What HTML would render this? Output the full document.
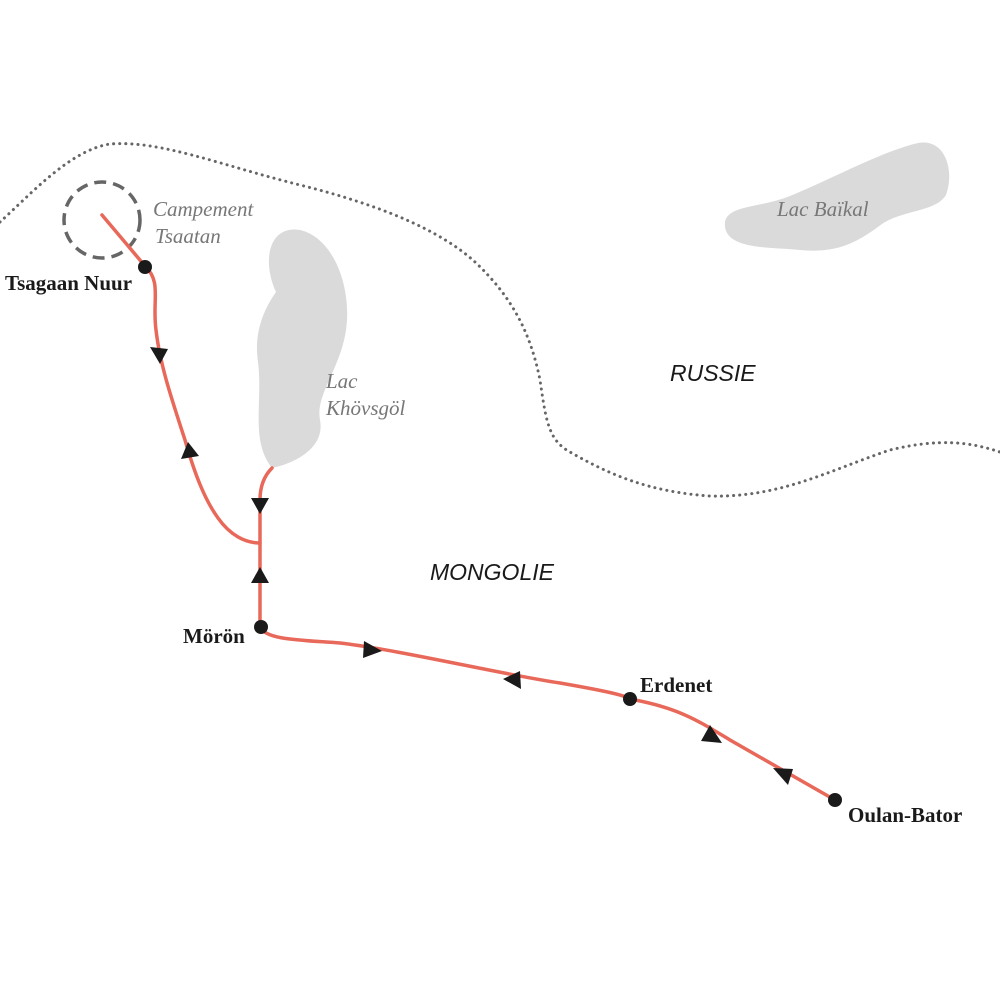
<!DOCTYPE html>
<html><head><meta charset="utf-8"><style>
html,body{margin:0;padding:0;background:#fff;}
svg{display:block}
.b{font-family:"Liberation Serif",serif;font-weight:bold;font-size:21px;fill:#1a1a1a}
.g{font-family:"Liberation Serif",serif;font-style:italic;font-size:21px;fill:#777}
.c{font-family:"Liberation Sans",sans-serif;font-style:italic;font-size:23px;fill:#1a1a1a}
</style></head><body>
<svg width="1000" height="1000" viewBox="0 0 1000 1000" xmlns="http://www.w3.org/2000/svg">
<path d="M0 222 C30 195 70 150 110 144 C160 140 220 165 300 185 C380 205 440 230 475 262 C510 295 530 330 540 380 C546 420 548 440 570 452 C610 475 650 492 710 496 C780 498 830 470 890 450 C940 438 970 442 1000 452" fill="none" stroke="#666" stroke-width="3" stroke-dasharray="0.1 6" stroke-linecap="round"/>
<path d="M272 468 C300 462 325 445 320 420 C315 395 340 370 346 330 C352 290 335 238 300 230 C268 225 262 262 276 292 C262 312 254 335 258 362 C263 402 250 440 272 468 Z" fill="#dadada"/>
<path d="M725 222 C728 205 760 208 790 196 C830 180 880 152 918 143 C945 138 955 170 946 195 C936 212 902 210 882 224 C860 240 840 254 800 250 C770 247 722 250 725 222 Z" fill="#dadada"/>
<circle cx="102" cy="220" r="38" fill="none" stroke="#666" stroke-width="3.5" stroke-dasharray="12 7"/>
<g fill="none" stroke="#e8685a" stroke-width="3.5" stroke-linecap="round">
<path d="M102 215 L145 266 C162 282 152 300 156 330 C160 365 172 400 185 440 C195 475 205 500 218 518 C230 535 245 543 260 543"/>
<path d="M272 468 C262 478 260 490 260 500 L260 627"/>
<path d="M260 627 C266 640 300 640 340 643 C400 650 500 674 560 683 C600 690 625 695 630 699 C680 708 700 722 730 740 L835 800"/>
</g>
<g fill="#1a1a1a">
<polygon points="150,347 168,349 160,364"/>
<polygon points="181,459 199,456 188,442"/>
<polygon points="251,498 269,498 260,514"/>
<polygon points="251,583 269,583 260,567"/>
<polygon points="364,641 363,658 382,651"/>
<polygon points="520,671 521,689 503,679"/>
<polygon points="710,725 701,741 722,743"/>
<polygon points="788,785 793,769 773,768"/>
<circle cx="145" cy="267" r="7"/>
<circle cx="261" cy="627" r="7"/>
<circle cx="630" cy="699" r="7"/>
<circle cx="835" cy="800" r="7"/>
</g>
<text class="b" x="5" y="290">Tsagaan Nuur</text>
<text class="b" x="183" y="643">Mörön</text>
<text class="b" x="640" y="692">Erdenet</text>
<text class="b" x="848" y="822">Oulan-Bator</text>
<text class="g" x="153" y="216">Campement</text>
<text class="g" x="155" y="243">Tsaatan</text>
<text class="g" x="326" y="388">Lac</text>
<text class="g" x="326" y="415">Khövsgöl</text>
<text class="g" x="777" y="216">Lac Baïkal</text>
<text class="c" x="670" y="381">RUSSIE</text>
<text class="c" x="430" y="580">MONGOLIE</text>
</svg>
</body></html>
